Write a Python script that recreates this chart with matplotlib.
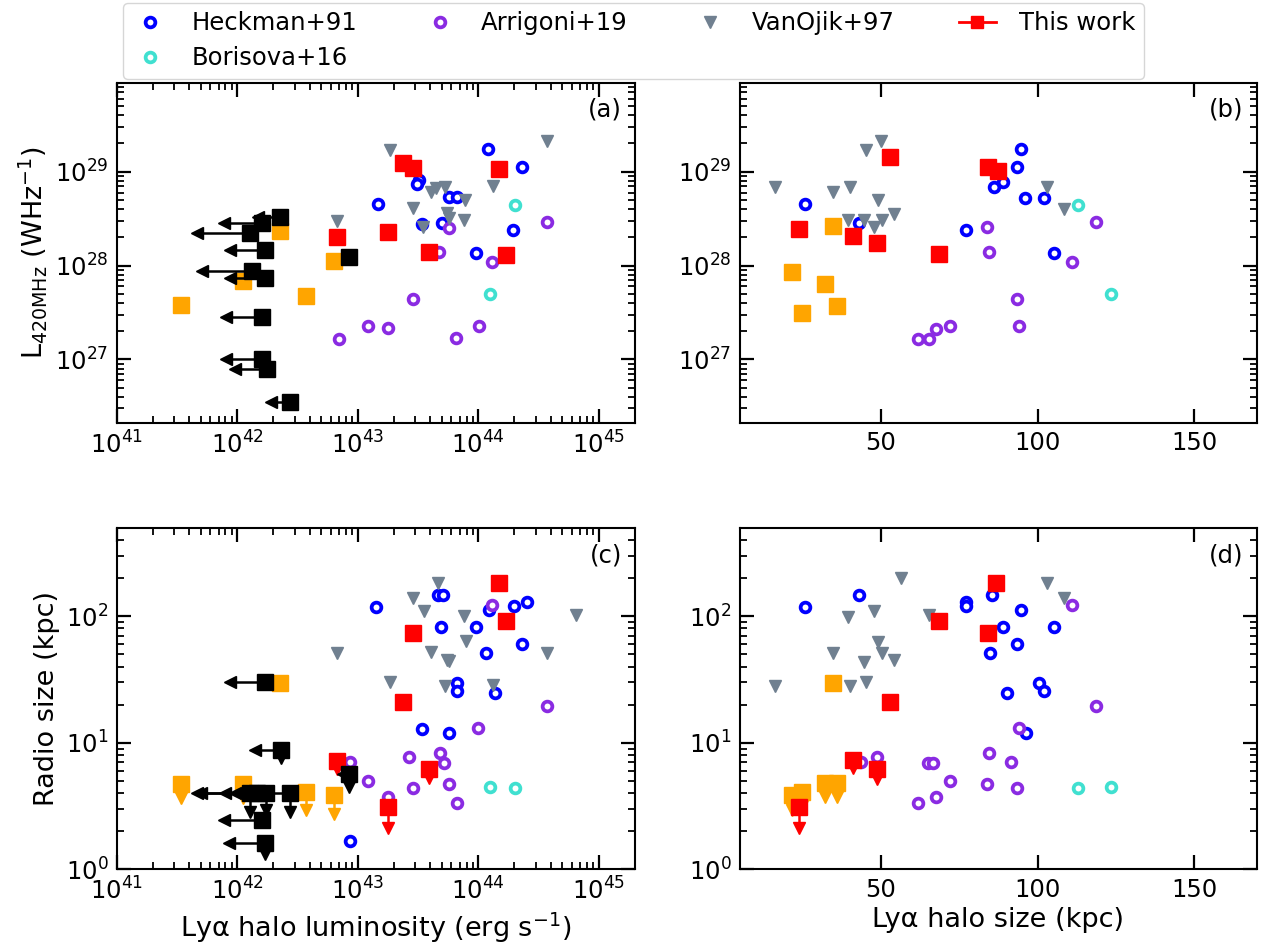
import numpy as np
import matplotlib
matplotlib.use("Agg")
import matplotlib.pyplot as plt
from matplotlib.lines import Line2D

nan = np.nan

# ---------------- Panel (a): Lya luminosity vs L420MHz (log10 values)
heck_a_logL = [43.166, 44.083, 44.364, 43.51, 43.49, 43.758, 43.821, 43.532, 43.698, 44.289, 43.979]
heck_a_logP = [28.656, 29.239, 29.047, 28.912, 28.87, 28.727, 28.727, 28.442, 28.456, 28.378, 28.13]
arr_a_logL = [42.843, 43.083, 43.254, 43.463, 43.76, 43.673, 44.114, 44.57, 44.003, 43.818]
arr_a_logP = [27.213, 27.355, 27.33, 27.643, 28.403, 28.147, 28.04, 28.467, 27.355, 27.224]
bor_a_logL = [44.306, 44.095]
bor_a_logP = [28.645, 27.693]
vo_a_logL = [42.825, 43.267, 43.46, 43.612, 43.653, 43.723, 43.543, 43.744, 43.758, 43.888, 43.883, 44.123, 44.57]
vo_a_logP = [28.478, 29.231, 28.61, 28.787, 28.823, 28.84, 28.414, 28.556, 28.503, 28.698, 28.485, 28.848, 29.33]
tw_a_logL = [42.826, 43.372, 43.455, 44.171, 43.254, 43.593, 44.231]
tw_a_logP = [28.30, 29.09, 29.04, 29.026, 28.354, 28.147, 28.112]
or_a_logL = [42.359, 42.80, 42.045, 42.574, 41.532]
or_a_logP = [28.371, 28.048, 27.838, 27.675, 27.576]
bl_a_logL = [42.353, 42.202, 42.105, 42.229, 42.119, 42.229, 42.21, 42.21, 42.248, 42.441, 42.93]
bl_a_logP = [28.514, 28.456, 28.343, 28.165, 27.945, 27.870, 27.448, 27.0, 26.90, 26.548, 28.087]
bl_a_xlim = [42.17, 41.89, 41.67, 41.94, 41.71, 41.94, 41.91, 41.91, 41.985, 42.28, nan]

# ---------------- Panel (b): Lya size (kpc) vs L420MHz
heck_b_size = [25.6, 43.0, 77.3, 86.0, 89.0, 94.6, 93.4, 96.1, 102.0, 105.2]
heck_b_logP = [28.656, 28.456, 28.378, 28.84, 28.893, 29.239, 29.047, 28.723, 28.723, 28.13]
arr_b_size = [61.7, 65.2, 67.5, 71.9, 83.9, 84.5, 93.4, 94.1, 110.9, 118.7]
arr_b_logP = [27.22, 27.213, 27.326, 27.355, 28.407, 28.147, 27.643, 27.358, 28.04, 28.464]
bor_b_size = [113.0, 123.4]
bor_b_logP = [28.645, 27.693]
vo_b_size = [16.3, 34.6, 40.1, 45.3, 50.0, 49.0, 39.4, 44.6, 50.4, 54.3, 47.9, 103.0, 108.4]
vo_b_logP = [28.84, 28.787, 28.84, 29.231, 29.33, 28.698, 28.485, 28.49, 28.485, 28.546, 28.414, 28.834, 28.602]
tw_b_size = [52.8, 23.7, 41.1, 48.7, 68.4, 84.2, 87.4]
tw_b_logP = [29.153, 28.386, 28.318, 28.237, 28.119, 29.047, 29.011]
or_b_size = [34.6, 21.5, 32.0, 36.1, 24.7]
or_b_logP = [28.424, 27.931, 27.803, 27.571, 27.497]

# ---------------- Panel (c): Lya luminosity vs radio size (log10 kpc)
heck_c_logL = [43.152, 43.67, 43.71, 43.69, 43.979, 44.067, 44.09, 44.297, 44.405, 44.365,
               43.826, 43.826, 44.143, 43.532, 43.758, 42.94]
heck_c_logR = [2.073, 2.166, 2.166, 1.911, 1.911, 1.706, 2.047, 2.079, 2.113, 1.777,
               1.474, 1.408, 1.39, 1.106, 1.079, 0.227]
arr_c_logL = [42.94, 43.083, 43.254, 43.463, 43.428, 43.68, 43.72, 43.76, 43.82, 44.0, 44.114, 44.57]
arr_c_logR = [0.85, 0.70, 0.574, 0.645, 0.889, 0.916, 0.842, 0.672, 0.522, 1.114, 2.092, 1.29]
bor_c_logL = [44.095, 44.306]
bor_c_logR = [0.653, 0.64]
vo_c_logL = [42.825, 43.67, 43.46, 43.548, 43.883, 44.814, 43.896, 43.612, 43.744, 43.76,
             44.57, 43.27, 43.723, 44.123]
vo_c_logR = [1.706, 2.263, 2.14, 2.042, 2.0, 2.01, 1.805, 1.716, 1.653, 1.647,
             1.71, 1.484, 1.45, 1.455]
tw_c_logL = [44.171, 44.231, 43.455, 43.372, 42.826, 43.593, 43.254]
tw_c_logR = [2.266, 1.963, 1.871, 1.319, 0.858, 0.79, 0.495]
tw_c_ylim = [nan, nan, nan, nan, 0.79, 0.72, 0.33]
or_c_logL = [42.359, 41.532, 42.045, 42.574, 42.80]
or_c_logR = [1.469, 0.674, 0.674, 0.613, 0.587]
or_c_ylim = [nan, 0.56, 0.56, 0.465, 0.435]
bl_c_logL = [42.229, 42.361, 42.105, 42.163, 42.243, 42.44, 42.21, 42.229, 42.926]
bl_c_logR = [1.481, 0.942, 0.601, 0.601, 0.601, 0.601, 0.389, 0.206, 0.757]
bl_c_xlim = [41.94, 42.15, 41.67, 41.90, 41.70, 41.985, 41.89, 41.93, 42.88]
bl_c_ylim = [nan, 0.88, 0.455, nan, 0.47, 0.457, nan, 0.12, 0.65]

# ---------------- Panel (d): Lya size vs radio size
heck_d_size = [25.6, 43.0, 77.3, 77.3, 85.6, 84.9, 94.6, 89.0, 105.2, 93.4, 100.6, 102.0, 90.3, 96.2]
heck_d_logR = [2.073, 2.166, 2.113, 2.079, 2.166, 1.706, 2.047, 1.911, 1.911, 1.777, 1.474, 1.408, 1.39, 1.079]
arr_d_size = [43.6, 48.6, 65.0, 66.5, 71.9, 61.7, 67.5, 84.5, 83.9, 93.4, 91.4, 94.1, 110.9, 118.7]
arr_d_logR = [0.85, 0.889, 0.84, 0.84, 0.70, 0.522, 0.574, 0.921, 0.674, 0.645, 0.845, 1.114, 2.092, 1.29]
bor_d_size = [113.0, 123.4]
bor_d_logR = [0.64, 0.653]
vo_d_size = [56.3, 47.9, 39.4, 65.2, 49.0, 50.2, 34.6, 44.6, 54.3, 16.2, 40.1, 45.3, 103.0, 108.4]
vo_d_logR = [2.298, 2.042, 1.995, 2.01, 1.797, 1.706, 1.713, 1.64, 1.653, 1.448, 1.448, 1.484, 2.263, 2.14]
tw_d_size = [68.4, 84.2, 52.8, 41.1, 48.7, 23.7, 86.9]
tw_d_logR = [1.963, 1.871, 1.319, 0.863, 0.79, 0.49, 2.266]
tw_d_ylim = [nan, nan, nan, 0.80, 0.71, 0.33, nan]
or_d_size = [34.6, 21.5, 24.7, 32.0, 36.1]
or_d_logR = [1.469, 0.587, 0.613, 0.68, 0.68]
or_d_ylim = [nan, 0.47, 0.50, 0.575, 0.575]

labels = ["Heckman+91", "Borisova+16", "Arrigoni+19", "VanOjik+97", "This work"]
panel_tags = ["(a)", "(b)", "(c)", "(d)"]

C_HECK = "blue"
C_ARR = "blueviolet"
C_BOR = "turquoise"
C_VO = "slategray"
C_TW = "red"
C_OR = "orange"
C_BL = "black"

FS_TICK = 17.5
FS_LAB = 19.5
RING_MS = 7.0
RING_MEW = 2.7

fig = plt.figure(figsize=(12.68, 9.5), dpi=100)
axa = fig.add_axes([0.092, 0.5547, 0.4088, 0.3583])
axb = fig.add_axes([0.5836, 0.5547, 0.4075, 0.3583])
axc = fig.add_axes([0.092, 0.0849, 0.4088, 0.3596])
axd = fig.add_axes([0.5836, 0.0849, 0.4075, 0.3596])


def p10(v):
    return 10.0 ** np.asarray(v, dtype=float)


def rings(ax, x, y, c):
    ax.plot(x, y, "o", ms=RING_MS, mfc="white", mec=c, mew=RING_MEW, ls="none", zorder=3)


def tris(ax, x, y):
    ax.plot(x, y, "v", ms=8, color=C_VO, ls="none", zorder=3)


def squares(ax, x, y, c, z):
    ax.plot(x, y, "s", ms=11.5, color=c, ls="none", zorder=z)


def arrows(ax, x, y, xe, ye, c, z):
    for xi, yi, xl, yl in zip(x, y, xe, ye):
        if np.isfinite(xl):
            ax.plot([xi, xl], [yi, yi], color=c, lw=1.8, zorder=z)
            ax.plot(xl, yi, "<", ms=8, color=c, zorder=z)
        if np.isfinite(yl):
            ax.plot([xi, xi], [yi, yl], color=c, lw=1.8, zorder=z)
            ax.plot(xi, yl, "v", ms=8, color=c, zorder=z)


# ---- (a)
rings(axa, p10(heck_a_logL), p10(heck_a_logP), C_HECK)
rings(axa, p10(arr_a_logL), p10(arr_a_logP), C_ARR)
rings(axa, p10(bor_a_logL), p10(bor_a_logP), C_BOR)
tris(axa, p10(vo_a_logL), p10(vo_a_logP))
squares(axa, p10(or_a_logL), p10(or_a_logP), C_OR, 4)
squares(axa, p10(tw_a_logL), p10(tw_a_logP), C_TW, 5)
arrows(axa, p10(bl_a_logL), p10(bl_a_logP), p10(bl_a_xlim), [nan] * len(bl_a_logL), C_BL, 6)
squares(axa, p10(bl_a_logL), p10(bl_a_logP), C_BL, 6)

# ---- (b)
rings(axb, heck_b_size, p10(heck_b_logP), C_HECK)
rings(axb, arr_b_size, p10(arr_b_logP), C_ARR)
rings(axb, bor_b_size, p10(bor_b_logP), C_BOR)
tris(axb, vo_b_size, p10(vo_b_logP))
squares(axb, or_b_size, p10(or_b_logP), C_OR, 4)
squares(axb, tw_b_size, p10(tw_b_logP), C_TW, 5)

# ---- (c)
rings(axc, p10(heck_c_logL), p10(heck_c_logR), C_HECK)
rings(axc, p10(arr_c_logL), p10(arr_c_logR), C_ARR)
rings(axc, p10(bor_c_logL), p10(bor_c_logR), C_BOR)
tris(axc, p10(vo_c_logL), p10(vo_c_logR))
arrows(axc, p10(or_c_logL), p10(or_c_logR), [nan] * len(or_c_logL), p10(or_c_ylim), C_OR, 4)
squares(axc, p10(or_c_logL), p10(or_c_logR), C_OR, 4)
arrows(axc, p10(tw_c_logL), p10(tw_c_logR), [nan] * len(tw_c_logL), p10(tw_c_ylim), C_TW, 5)
squares(axc, p10(tw_c_logL), p10(tw_c_logR), C_TW, 5)
arrows(axc, p10(bl_c_logL), p10(bl_c_logR), p10(bl_c_xlim), p10(bl_c_ylim), C_BL, 6)
squares(axc, p10(bl_c_logL), p10(bl_c_logR), C_BL, 6)

# ---- (d)
rings(axd, heck_d_size, p10(heck_d_logR), C_HECK)
rings(axd, arr_d_size, p10(arr_d_logR), C_ARR)
rings(axd, bor_d_size, p10(bor_d_logR), C_BOR)
tris(axd, vo_d_size, p10(vo_d_logR))
arrows(axd, or_d_size, p10(or_d_logR), [nan] * len(or_d_size), p10(or_d_ylim), C_OR, 4)
squares(axd, or_d_size, p10(or_d_logR), C_OR, 4)
arrows(axd, tw_d_size, p10(tw_d_logR), [nan] * len(tw_d_size), p10(tw_d_ylim), C_TW, 5)
squares(axd, tw_d_size, p10(tw_d_logR), C_TW, 5)

# ---- axes styling
for ax in (axa, axc):
    ax.set_xscale("log")
    ax.set_xlim(1e41, 2e45)
for ax in (axb, axd):
    ax.set_xlim(5, 170)
    ax.set_xticks([50, 100, 150])
for ax in (axa, axb):
    ax.set_yscale("log")
    ax.set_ylim(2.1e26, 8.9e29)
for ax in (axc, axd):
    ax.set_yscale("log")
    ax.set_ylim(1, 500)

for ax, tag in zip((axa, axb, axc, axd), panel_tags):
    ax.tick_params(which="both", direction="in", top=True, right=True, labelsize=FS_TICK)
    ax.tick_params(which="major", length=10, width=1.6, pad=6)
    ax.tick_params(which="minor", length=5, width=1.3)
    for s in ax.spines.values():
        s.set_linewidth(1.5)
    ax.text(0.975, 0.955, tag, transform=ax.transAxes, ha="right", va="top", fontsize=FS_TICK)

axa.set_ylabel(r"L$_{\rm 420MHz}$ (WHz$^{-1}$)", fontsize=FS_LAB)
axc.set_ylabel("Radio size (kpc)", fontsize=FS_LAB)
axc.set_xlabel(r"Lyα halo luminosity (erg s$^{-1}$)", fontsize=FS_LAB)
axd.set_xlabel("Lyα halo size (kpc)", fontsize=FS_LAB)

handles = [
    Line2D([], [], marker="o", ls="none", ms=RING_MS, mfc="white", mec=C_HECK, mew=RING_MEW),
    Line2D([], [], marker="o", ls="none", ms=RING_MS, mfc="white", mec=C_BOR, mew=RING_MEW),
    Line2D([], [], marker="o", ls="none", ms=RING_MS, mfc="white", mec=C_ARR, mew=RING_MEW),
    Line2D([], [], marker="v", ls="none", ms=8, color=C_VO),
    Line2D([], [], marker="s", ls="-", lw=2, ms=9, color=C_TW),
]
fig.legend(handles, labels, loc="upper center", bbox_to_anchor=(0.4996, 1.0), ncol=4,
           fontsize=17.5, columnspacing=2.65, handlelength=1.5, handletextpad=0.95,
           borderpad=0.35, borderaxespad=0.12, labelspacing=0.45)

fig.savefig("out.png", dpi=100)
